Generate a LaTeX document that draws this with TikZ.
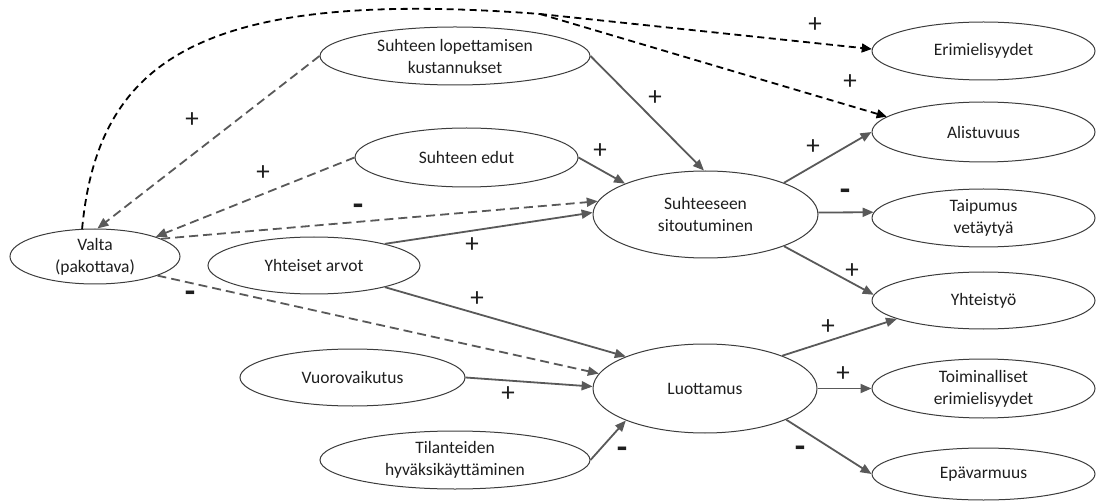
\documentclass[tikz,border=0pt]{standalone}
\usepackage{fontspec}
\setmainfont{Carlito}
\usetikzlibrary{arrows.meta,shapes.geometric}
\definecolor{edgegray}{HTML}{595959}
\definecolor{rimgray}{HTML}{3C3C3C}
\definecolor{inkgray}{HTML}{1E1E1E}
\begin{document}
\begin{tikzpicture}[x=1pt,y=-1pt,
  factor/.style={ellipse,draw=rimgray,line width=1pt,inner sep=0pt,align=center,
    font=\fontsize{17.5}{22}\selectfont,text=inkgray},
  link/.style={draw=edgegray,line width=1.8pt,-{Triangle[length=11pt,width=9pt]}},
  weak/.style={link,dash pattern=on 9pt off 5pt},
  power/.style={draw=black,line width=1.8pt,dash pattern=on 7pt off 4.5pt},
  powertip/.style={power,-{Triangle[length=10pt,width=9pt]}},
  plussign/.style={font=\fontsize{27}{27}\selectfont,text=inkgray,inner sep=0pt},
  minussign/.style={font=\bfseries\fontsize{34}{34}\selectfont,text=inkgray,inner sep=0pt}
]
\useasboundingbox (0,0) rectangle (1099,502);

% factors, left to right
\node[factor,minimum width=170pt,minimum height=55pt] (valta) at (95,256.5) {Valta\\(pakottava)};
\node[factor,minimum width=270pt,minimum height=58pt] (lop) at (455,56) {Suhteen lopettamisen\\kustannukset};
\node[factor,minimum width=223pt,minimum height=59pt] (edut) at (466.5,157.5) {Suhteen edut};
\node[factor,minimum width=212pt,minimum height=57pt] (yht) at (314,265.5) {Yhteiset arvot};
\node[factor,minimum width=225pt,minimum height=57pt] (vuoro) at (352.5,377.5) {Vuorovaikutus};
\node[factor,minimum width=270pt,minimum height=58pt] (tilan) at (455,460) {Tilanteiden\\hyväksikäyttäminen};
\node[factor,minimum width=225pt,minimum height=87pt] (sit) at (705.5,214.5) {Suhteeseen\\sitoutuminen};
\node[factor,minimum width=224pt,minimum height=89pt] (luot) at (705,388.5) {Luottamus};
\node[factor,minimum width=223pt,minimum height=58pt] (eri) at (983.5,51) {Erimielisyydet};
\node[factor,minimum width=223pt,minimum height=60pt] (ali) at (983.5,132) {Alistuvuus};
\node[factor,minimum width=223pt,minimum height=58pt] (taip) at (983.5,218) {Taipumus\\vetäytyä};
\node[factor,minimum width=223pt,minimum height=57pt] (yhteis) at (983.5,300.5) {Yhteistyö};
\node[factor,minimum width=223pt,minimum height=59pt] (toim) at (983.5,388.5) {Toiminalliset\\erimielisyydet};
\node[factor,minimum width=223pt,minimum height=52pt] (epav) at (983.5,474) {Epävarmuus};

% coercive power: long arc over the top, forking to two outcomes
\coordinate (fork) at (540,14);
\draw[power] (valta.115) .. controls (98,60) and (200,-12) .. (fork);
\draw[powertip] (fork) -- (eri.179);
\draw[powertip] (fork) -- (ali.171);

% dashed links around power
\draw[weak] (lop.180) -- (valta.85);
\draw[weak] (edut.180) -- (valta.18);
\draw[weak] (valta.15) -- (sit.173);
\draw[weak] (valta.343) -- (luot.172);

% antecedents of commitment and trust
\draw[link] (lop.0) -- (sit.92);
\draw[link] (edut.0) -- (sit.159);
\draw[link] (yht.17) -- (sit.179);
\draw[link] (yht.343) -- (luot.158);
\draw[link] (vuoro.0) -- (luot.179);
\draw[link] (tilan.0) -- (luot.202);

% outcomes
\draw[link] (sit.22) -- (ali.180);
\draw[link] (sit.1) -- (taip.177);
\draw[link] (sit.338) -- (yhteis.177);
\draw[link] (luot.23) -- (yhteis.192);
\draw[link] (luot.0) -- (toim.180);
\draw[link] (luot.339) -- (epav.180);

% signs
\node[plussign] (s1) at (192,120) {+};
\node[plussign] (s2) at (263,173) {+};
\node[minussign] (s3) at (358,210) {-};
\node[plussign] (s4) at (472,245) {+};
\node[plussign] (s5) at (477,299) {+};
\node[minussign] (s6) at (190,297) {-};
\node[plussign] (s7) at (508,394) {+};
\node[minussign] (s8) at (622,453) {-};
\node[plussign] (s9) at (655,98) {+};
\node[plussign] (s10) at (600,151) {+};
\node[plussign] (s11) at (815,25) {+};
\node[plussign] (s12) at (850,82) {+};
\node[plussign] (s13) at (813,147) {+};
\node[minussign] (s14) at (845,195) {-};
\node[plussign] (s15) at (852,271) {+};
\node[plussign] (s16) at (828,327) {+};
\node[plussign] (s17) at (843,374) {+};
\node[minussign] (s18) at (800,452) {-};
\end{tikzpicture}
\end{document}
